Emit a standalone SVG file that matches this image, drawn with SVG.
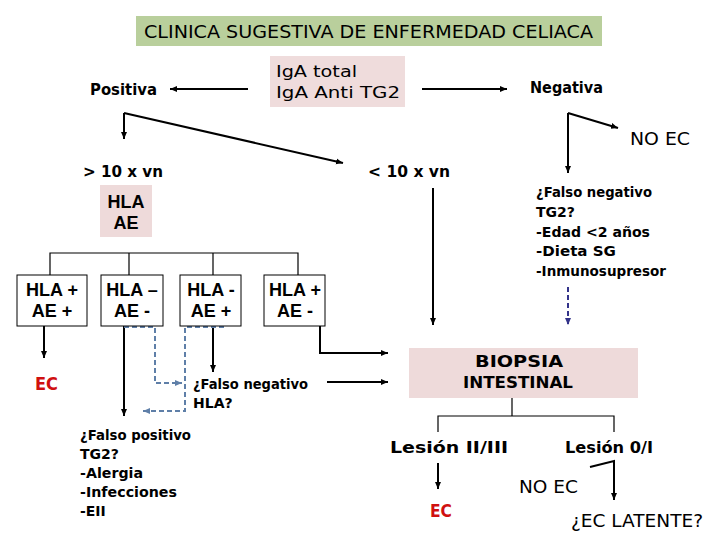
<svg xmlns="http://www.w3.org/2000/svg" width="720" height="540" viewBox="0 0 720 540">
<defs>
<marker id="ah" markerUnits="userSpaceOnUse" markerWidth="8" markerHeight="8" refX="7" refY="4" orient="auto"><path d="M0,1 L7,4 L0,7 z" fill="#000"/></marker>
<marker id="ahb" markerUnits="userSpaceOnUse" markerWidth="8" markerHeight="8" refX="7" refY="4" orient="auto"><path d="M0,1 L7,4 L0,7 z" fill="#5f7fa8"/></marker>
<marker id="ahn" markerUnits="userSpaceOnUse" markerWidth="8" markerHeight="8" refX="7" refY="4" orient="auto"><path d="M0,1 L7,4 L0,7 z" fill="#33338a"/></marker>
<style>
.t{font-family:"DejaVu Sans","Liberation Sans",sans-serif;fill:#000}
.h{font-family:"Liberation Sans",Arial,sans-serif;font-weight:bold;fill:#000}
.b{font-weight:bold}
.red{fill:#d01010;font-weight:bold}
.box{stroke:#000;stroke-width:1;fill:#fff}
.pink{fill:#eedada}
.ln{fill:none;stroke:#000;stroke-width:2}
.thin{fill:none;stroke:#000;stroke-width:1.2}
.dash{fill:none;stroke:#5f7fa8;stroke-width:2;stroke-dasharray:5,3}
.dashn{fill:none;stroke:#33338a;stroke-width:2;stroke-dasharray:5,3}
</style>
</defs>
<rect width="720" height="540" fill="#fff"/>

<g id="connectors">
<path class="ln" d="M248,89 H170" marker-end="url(#ah)"/>
<path class="ln" d="M422,89 H507" marker-end="url(#ah)"/>
<path class="ln" d="M124,113 V139" marker-end="url(#ah)"/>
<path class="ln" d="M124,113 L343,163" marker-end="url(#ah)"/>
<path class="ln" d="M568,113 V173" marker-end="url(#ah)"/>
<path class="ln" d="M568,113 L618,128" marker-end="url(#ah)"/>
<path class="ln" d="M433,188 V325" marker-end="url(#ah)"/>
<path class="dashn" d="M568,287 V325" marker-end="url(#ahn)"/>
<path class="thin" d="M50,275 V253 H298 V275 M129,253 V275 M213,253 V275"/>
<path class="ln" d="M44,326 V358" marker-end="url(#ah)"/>
<path class="ln" d="M124,326 V416" marker-end="url(#ah)"/>
<path class="dash" d="M124,327 H155 V383 H182" marker-end="url(#ahb)"/>
<path class="ln" d="M213,326 V372" marker-end="url(#ah)"/>
<path class="dash" d="M224,327 H185 V411 H143" marker-end="url(#ahb)"/>
<path class="ln" d="M320,326 V353 H388" marker-end="url(#ah)"/>
<path class="ln" d="M327,382 H388" marker-end="url(#ah)"/>
<path class="thin" d="M512,398 V416 M438,432 V416 H614 V432"/>
<path class="ln" d="M438,463 V489" marker-end="url(#ah)"/>
<path class="ln" d="M590,467 L614,461 V500" marker-end="url(#ah)"/>
</g>

<g id="title">
<rect x="136" y="16" width="466" height="30" fill="#b9cf9c"/>
<text class="t" x="144" y="38" font-size="17" textLength="449" lengthAdjust="spacingAndGlyphs">CLINICA SUGESTIVA DE ENFERMEDAD CELIACA</text>
</g>

<g id="iga">
<rect x="270" y="56" width="135" height="51" fill="#efdcdc"/>
<text class="t" x="276" y="77" font-size="16" textLength="81" lengthAdjust="spacingAndGlyphs">IgA total</text>
<text class="t" x="276" y="98" font-size="16" textLength="124" lengthAdjust="spacingAndGlyphs">IgA Anti TG2</text>
</g>

<g id="positiva"><text class="t b" x="90" y="95" font-size="15" textLength="67" lengthAdjust="spacingAndGlyphs">Positiva</text></g>
<g id="negativa"><text class="t b" x="530" y="93" font-size="15" textLength="73" lengthAdjust="spacingAndGlyphs">Negativa</text></g>
<g id="noec1"><text class="t" x="630" y="145" font-size="18" textLength="60" lengthAdjust="spacingAndGlyphs">NO EC</text></g>
<g id="mayor10"><text class="t b" x="83" y="177" font-size="16" textLength="80" lengthAdjust="spacingAndGlyphs">&gt; 10 x vn</text></g>
<g id="menor10"><text class="t b" x="368" y="177" font-size="16" textLength="82" lengthAdjust="spacingAndGlyphs">&lt; 10 x vn</text></g>

<g id="hla-ae">
<rect x="100" y="185" width="52" height="52" class="pink"/>
<text class="h" x="126" y="208" font-size="18" text-anchor="middle">HLA</text>
<text class="h" x="126" y="229" font-size="18" text-anchor="middle">AE</text>
</g>

<g id="falso-neg-tg2" class="t b" font-size="14">
<text x="536" y="197" textLength="116" lengthAdjust="spacingAndGlyphs">¿Falso negativo</text>
<text x="536" y="217">TG2?</text>
<text x="536" y="237" textLength="114" lengthAdjust="spacingAndGlyphs">-Edad &lt;2 años</text>
<text x="536" y="256" textLength="80" lengthAdjust="spacingAndGlyphs">-Dieta SG</text>
<text x="536" y="276" textLength="130" lengthAdjust="spacingAndGlyphs">-Inmunosupresor</text>
</g>

<g id="hla1">
<rect x="17" y="275" width="70" height="51" class="box"/>
<text class="h" x="52" y="296" font-size="18" text-anchor="middle">HLA +</text>
<text class="h" x="52" y="317" font-size="18" text-anchor="middle">AE +</text>
</g>
<g id="hla2">
<rect x="101" y="275" width="62" height="51" class="box"/>
<text class="h" x="132" y="296" font-size="18" text-anchor="middle">HLA –</text>
<text class="h" x="132" y="317" font-size="18" text-anchor="middle">AE -</text>
</g>
<g id="hla3">
<rect x="180" y="275" width="61" height="51" class="box"/>
<text class="h" x="211" y="296" font-size="18" text-anchor="middle">HLA -</text>
<text class="h" x="211" y="317" font-size="18" text-anchor="middle">AE +</text>
</g>
<g id="hla4">
<rect x="264" y="275" width="61" height="51" class="box"/>
<text class="h" x="295" y="296" font-size="18" text-anchor="middle">HLA +</text>
<text class="h" x="295" y="317" font-size="18" text-anchor="middle">AE -</text>
</g>

<g id="ec1"><text class="t red" x="35" y="390" font-size="18" textLength="23" lengthAdjust="spacingAndGlyphs">EC</text></g>

<g id="falso-neg-hla" class="t b" font-size="14">
<text x="193" y="389" textLength="115" lengthAdjust="spacingAndGlyphs">¿Falso negativo</text>
<text x="193" y="408">HLA?</text>
</g>

<g id="falso-pos-tg2" class="t b" font-size="14">
<text x="80" y="440" textLength="111" lengthAdjust="spacingAndGlyphs">¿Falso positivo</text>
<text x="80" y="459">TG2?</text>
<text x="80" y="478" textLength="63" lengthAdjust="spacingAndGlyphs">-Alergia</text>
<text x="80" y="497" textLength="97" lengthAdjust="spacingAndGlyphs">-Infecciones</text>
<text x="80" y="516">-EII</text>
</g>

<g id="biopsia">
<rect x="409" y="348" width="229" height="50" class="pink"/>
<text class="t b" x="519" y="367" font-size="16" text-anchor="middle" textLength="88" lengthAdjust="spacingAndGlyphs">BIOPSIA</text>
<text class="t b" x="518" y="388" font-size="16" text-anchor="middle" textLength="110" lengthAdjust="spacingAndGlyphs">INTESTINAL</text>
</g>

<g id="lesion23"><text class="t b" x="390" y="453" font-size="16" textLength="118" lengthAdjust="spacingAndGlyphs">Lesión II/III</text></g>
<g id="lesion01"><text class="t b" x="565" y="453" font-size="16" textLength="88" lengthAdjust="spacingAndGlyphs">Lesión 0/I</text></g>
<g id="ec2"><text class="t red" x="430" y="517" font-size="18" textLength="22" lengthAdjust="spacingAndGlyphs">EC</text></g>
<g id="noec2"><text class="t" x="519" y="493" font-size="18" textLength="59" lengthAdjust="spacingAndGlyphs">NO EC</text></g>
<g id="latente"><text class="t" x="571" y="527" font-size="18" textLength="132" lengthAdjust="spacingAndGlyphs">¿EC LATENTE?</text></g>
</svg>
